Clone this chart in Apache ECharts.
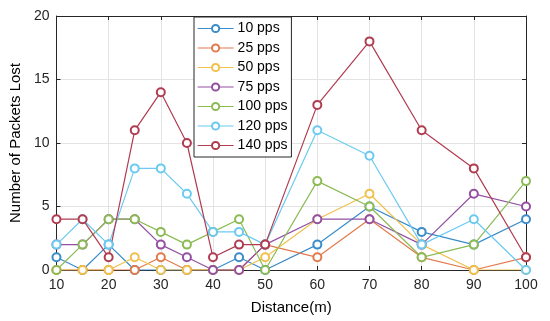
<!DOCTYPE html>
<html><head><meta charset="utf-8">
<script src="https://cdn.jsdelivr.net/npm/echarts@6/dist/echarts.min.js"></script>
<style>html,body{margin:0;padding:0;background:#fff}#c{width:550px;height:321px}</style>
</head><body><div id="c"></div>
<script>
const distances = [10,15,20,25,30,35,40,45,50,60,70,80,90,100];
const seriesNames = ['10 pps','25 pps','50 pps','75 pps','100 pps','120 pps','140 pps'];
const pps10  = [1,0,2,0,0,0,0,1,0,2,5,3,2,4];
const pps25  = [0,0,0,0,1,0,0,0,2,1,4,1,0,1];
const pps50  = [0,0,0,1,0,0,0,0,1,4,6,2,0,0];
const pps75  = [2,2,4,4,2,1,0,0,2,4,4,2,6,5];
const pps100 = [0,2,4,4,3,2,3,4,0,7,5,1,2,7];
const pps120 = [2,4,2,8,8,6,3,3,2,11,9,2,4,0];
const pps140 = [4,4,1,11,14,10,1,2,2,13,18,11,8,1];
const xTicks = [10,20,30,40,50,60,70,80,90,100];
const yTicks = [0,5,10,15,20];
const allValues = [pps10,pps25,pps50,pps75,pps100,pps120,pps140];
const colors = ['#3a8cca','#e27a4c','#f0c04c','#9350a2','#8cbb55','#6ccaf0','#b03c50'];

const font = 'Liberation Sans, Arial, sans-serif';
const axisColor = '#262626';
const chart = echarts.init(document.getElementById('c'));
const series = seriesNames.map((n,i)=>({
  name:n, type:'line', xAxisIndex:0, yAxisIndex:0,
  data: distances.map((d,j)=>[d, allValues[i][j]]),
  symbol:'emptyCircle', symbolSize:8,
  lineStyle:{width:1.2,color:colors[i]},
  itemStyle:{color:colors[i],borderWidth:1},
  emphasis:{disabled:true}, animation:false
}));
const baseX = {type:'value',min:xTicks[0],max:xTicks[xTicks.length-1],interval:10};
const baseY = {type:'value',min:yTicks[0],max:yTicks[yTicks.length-1],interval:5};
chart.setOption({
  animation:false,
  grid:{left:54,right:24,top:16,bottom:51,show:false},
  legend:{
    orient:'vertical', left:194, top:17,
    data:seriesNames,
    itemWidth:36, itemHeight:9, itemGap:4.5,
    padding:[4,4,4,3],
    itemStyle:{borderWidth:1},
    lineStyle:{width:1.2},
    backgroundColor:'#fff', borderColor:axisColor, borderWidth:1,
    textStyle:{fontFamily:font,fontSize:14,color:'#000',lineHeight:15,padding:[0,0,0,-1]}
  },
  xAxis:[
    Object.assign({},baseX,{position:'bottom',
      name:'Distance(m)',nameLocation:'middle',nameGap:30,
      nameTextStyle:{fontFamily:font,fontSize:15,color:'#000'},
      axisLine:{lineStyle:{color:axisColor}},
      axisTick:{inside:true,length:4,lineStyle:{color:axisColor}},
      axisLabel:{fontFamily:font,fontSize:14,color:'#262626',margin:8},
      splitLine:{show:true,lineStyle:{color:'#e3e3e3'}}}),
    Object.assign({},baseX,{position:'top',
      axisLine:{onZero:false,lineStyle:{color:axisColor}},
      axisTick:{inside:true,length:4,lineStyle:{color:axisColor}},
      axisLabel:{show:false},splitLine:{show:false}})
  ],
  yAxis:[
    Object.assign({},baseY,{position:'left',
      name:'Number of Packets Lost',nameLocation:'middle',nameGap:31,
      nameTextStyle:{fontFamily:font,fontSize:15,color:'#000'},
      axisLine:{show:true,lineStyle:{color:axisColor}},
      axisTick:{show:true,inside:true,length:4,lineStyle:{color:axisColor}},
      axisLabel:{fontFamily:font,fontSize:14,color:'#262626',margin:7},
      splitLine:{show:true,lineStyle:{color:'#e3e3e3'}}}),
    Object.assign({},baseY,{position:'right',
      axisLine:{show:true,onZero:false,lineStyle:{color:axisColor}},
      axisTick:{show:true,inside:true,length:4,lineStyle:{color:axisColor}},
      axisLabel:{show:false},splitLine:{show:false}})
  ],
  series:series
});
</script></body></html>
